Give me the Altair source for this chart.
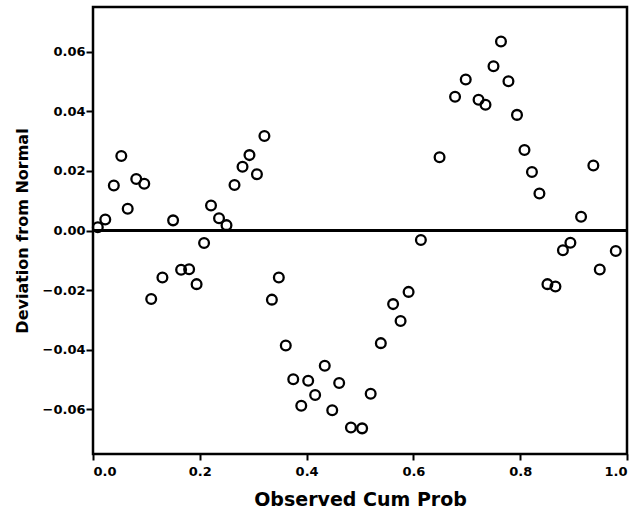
import altair as alt
import pandas as pd

# Observed cumulative probability (x) and deviation from normal (y)
obs_cum_prob = [
    0.009, 0.023, 0.039, 0.053, 0.065, 0.081, 0.096, 0.109, 0.130, 0.150,
    0.165, 0.180, 0.194, 0.208, 0.221, 0.236, 0.250, 0.265, 0.280, 0.293,
    0.307, 0.321, 0.335, 0.348, 0.361, 0.375, 0.390, 0.403, 0.416, 0.434,
    0.448, 0.461, 0.483, 0.504, 0.520, 0.539, 0.562, 0.576, 0.591, 0.614,
    0.649, 0.678, 0.698, 0.722, 0.735, 0.750, 0.764, 0.778, 0.794, 0.808,
    0.822, 0.836, 0.851, 0.866, 0.880, 0.894, 0.914, 0.937, 0.949, 0.979,
]
deviation = [
    0.0011, 0.0037, 0.0151, 0.0250, 0.0073, 0.0173, 0.0157, -0.0230, -0.0158, 0.0034,
    -0.0132, -0.0130, -0.0180, -0.0042, 0.0084, 0.0041, 0.0018, 0.0153, 0.0214, 0.0253,
    0.0189, 0.0317, -0.0232, -0.0158, -0.0386, -0.0499, -0.0588, -0.0504, -0.0552, -0.0454,
    -0.0603, -0.0512, -0.0661, -0.0664, -0.0548, -0.0378, -0.0247, -0.0304, -0.0206, -0.0032,
    0.0246, 0.0449, 0.0507, 0.0439, 0.0422, 0.0551, 0.0634, 0.0501, 0.0388, 0.0270,
    0.0196, 0.0124, -0.0180, -0.0188, -0.0066, -0.0041, 0.0046, 0.0218, -0.0131, -0.0069,
]
x_ticks = [0.0, 0.2, 0.4, 0.6, 0.8, 1.0]
y_ticks = [-0.06, -0.04, -0.02, 0.0, 0.02, 0.04, 0.06]
y_domain = [-0.075, 0.075]

df = pd.DataFrame({"x": obs_cum_prob, "y": deviation})

FONT = "DejaVu Sans"

x_enc = alt.X(
    "x:Q",
    title="Observed Cum Prob",
    scale=alt.Scale(domain=[0, 1], nice=False, zero=False),
    axis=alt.Axis(values=x_ticks, format=".1f", grid=False, domain=False,
                  tickSize=6, tickWidth=2, tickColor="black",
                  labelPadding=5, labelFontSize=13, labelFont=FONT,
                  labelFontWeight="bold", labelColor="black",
                  titleFontSize=19, titleFont=FONT, titleFontWeight="bold",
                  titleColor="black", titlePadding=12),
)
y_enc = alt.Y(
    "y:Q",
    title="Deviation from Normal",
    scale=alt.Scale(domain=y_domain, nice=False, zero=False),
    axis=alt.Axis(values=y_ticks, format=".2f", grid=False, domain=False,
                  tickSize=7, tickWidth=2, tickColor="black",
                  labelPadding=1, labelFontSize=13, labelFont=FONT,
                  labelFontWeight="bold", labelColor="black",
                  titleFontSize=16, titleFont=FONT, titleFontWeight="bold",
                  titleColor="black", titlePadding=12),
)

points = alt.Chart(df).mark_point(
    shape="circle", filled=False, color="black", strokeWidth=2.3, size=95, opacity=1
).encode(x=x_enc, y=y_enc)

zero_line = alt.Chart(df).mark_rule(color="black", strokeWidth=1.5).encode(
    y=alt.datum(0)
)

chart = (
    alt.layer(zero_line, points)
    .properties(
        width=534,
        height=447,
        autosize=alt.AutoSizeParams(type="none"),
        padding={"left": 93, "top": 7, "right": 13, "bottom": 65},
        background="white",
    )
    .configure_view(stroke="black", strokeWidth=2.5)
)

chart.save("out.html", embed_options={"renderer": "svg", "actions": False})
